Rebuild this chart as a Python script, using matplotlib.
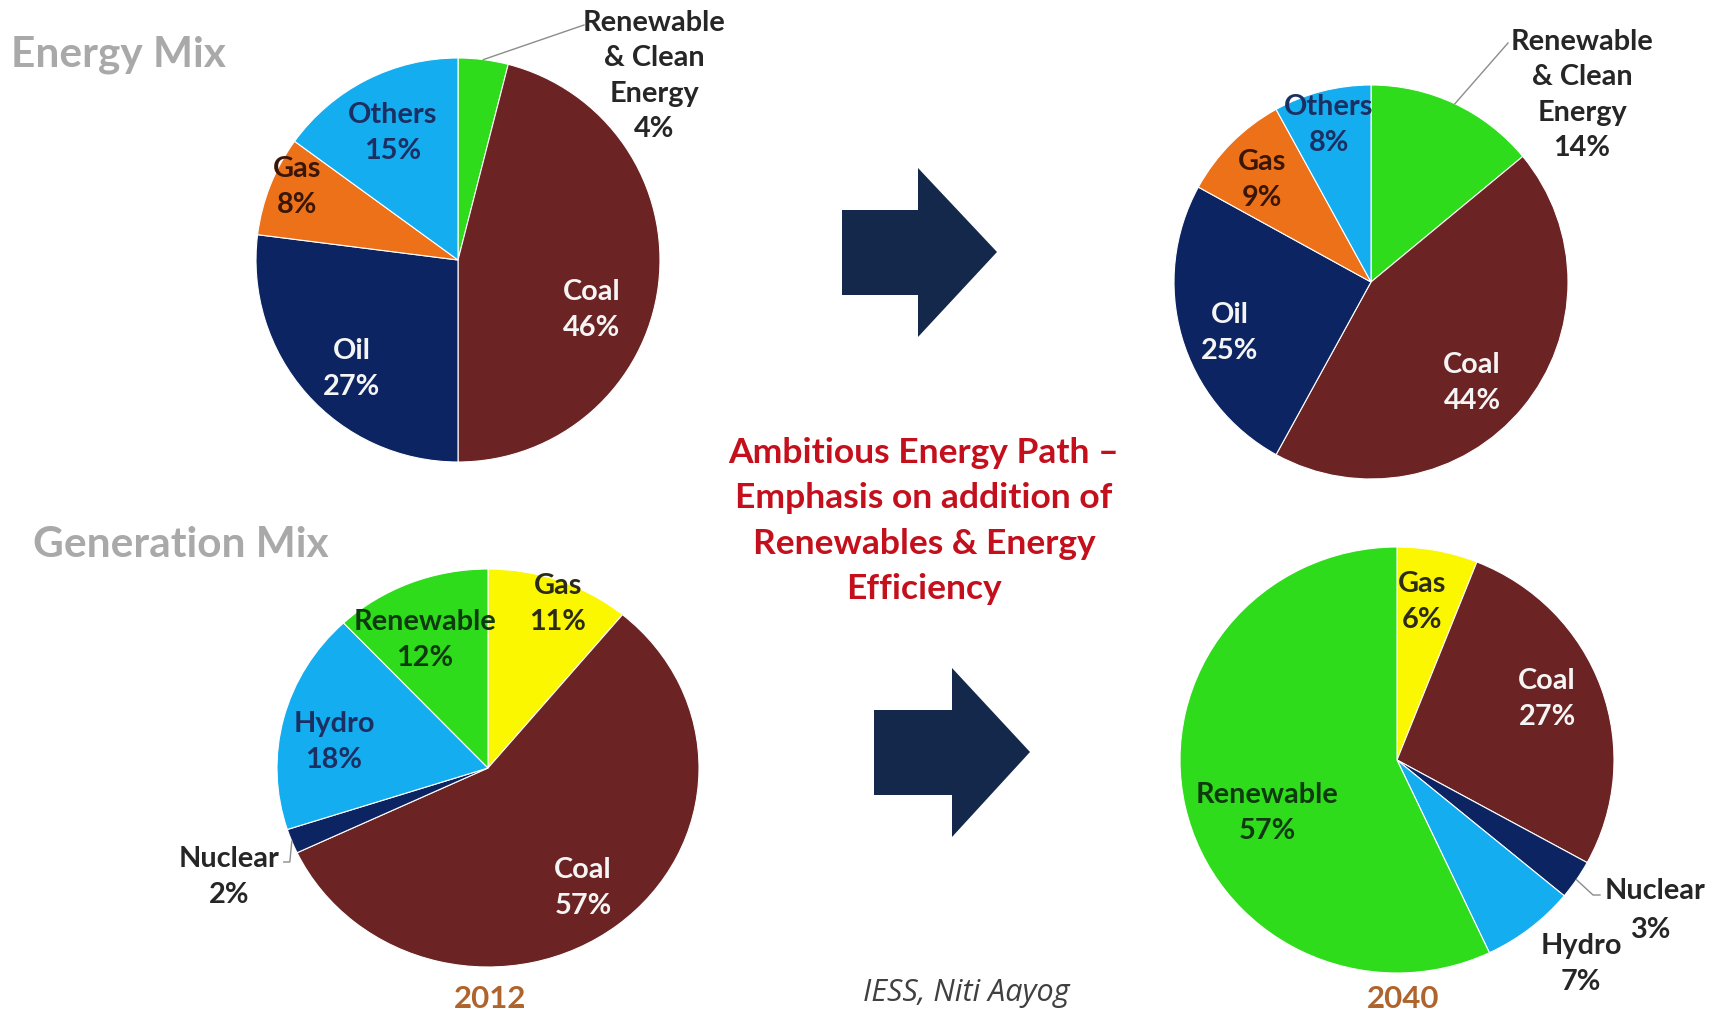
import matplotlib
matplotlib.use("Agg")
import math
import matplotlib.pyplot as plt
from matplotlib.patches import Polygon

# ---- data -------------------------------------------------------------
energy_2012_names = ["Renewable\n& Clean\nEnergy", "Coal", "Oil", "Gas", "Others"]
energy_2012_vals = [4, 46, 27, 8, 15]

energy_2040_names = ["Renewable\n& Clean\nEnergy", "Coal", "Oil", "Gas", "Others"]
energy_2040_vals = [14, 44, 25, 9, 8]

gen_2012_names = ["Gas", "Coal", "Nuclear", "Hydro", "Renewable"]
gen_2012_vals = [11, 57, 2, 18, 12]

gen_2040_names = ["Gas", "Coal", "Nuclear", "Hydro", "Renewable"]
gen_2040_vals = [6, 27, 3, 7, 57]

years = ["2012", "2040"]

# ---- styling ------------------------------------------------------------
GREEN = "#2fdc1c"
COAL = "#6b2323"
NAVY = "#0c2462"
ORANGE = "#ec7119"
SKY = "#14adef"
YELLOW = "#fbf700"

energy_colors = [GREEN, COAL, NAVY, ORANGE, SKY]
gen_colors = [YELLOW, COAL, NAVY, SKY, GREEN]

W, H = 1725, 1015
fig = plt.figure(figsize=(W / 100, H / 100), dpi=100)
fig.patch.set_facecolor("white")

FONT = ["Lato", "DejaVu Sans"]
LBL = 20.8

# overlay axes in pixel units for text, leaders and arrows
ov = fig.add_axes([0, 0, 1, 1], zorder=5)
ov.set_xlim(0, W)
ov.set_ylim(H, 0)
ov.axis("off")
ov.patch.set_alpha(0)


def draw_pie(vals, colors, cx, cy, rx, ry):
    ax = fig.add_axes([(cx - rx) / W, 1 - (cy + ry) / H, 2 * rx / W, 2 * ry / H])
    wedges, _ = ax.pie(vals, colors=colors, startangle=90, counterclock=False,
                       radius=1, wedgeprops=dict(edgecolor="white", linewidth=0.8))
    ax.set_xlim(-1, 1)
    ax.set_ylim(-1, 1)
    ax.set_aspect("auto")
    ax.axis("off")
    return wedges


def rim_point(wedge, cx, cy, rx, ry, frac=1.0):
    mid = math.radians((wedge.theta1 + wedge.theta2) / 2)
    return cx + frac * rx * math.cos(mid), cy - frac * ry * math.sin(mid)


def label(x, y, name, val, color, size=LBL):
    ov.text(x, y, f"{name}\n{val}%", ha="center", va="center", color=color,
            fontsize=size, fontweight="bold", family=FONT, linespacing=1.44)


# pie geometry (pixel centre and radii)
P1 = (458, 260, 202, 202)
P2 = (1371, 282, 197, 197)
P3 = (488, 768, 211, 199)
P4 = (1397, 760, 217, 213)

w1 = draw_pie(energy_2012_vals, energy_colors, *P1)
w2 = draw_pie(energy_2040_vals, energy_colors, *P2)
w3 = draw_pie(gen_2012_vals, gen_colors, *P3)
w4 = draw_pie(gen_2040_vals, gen_colors, *P4)

DARK = "#262626"
NAVYTXT = "#1c2f62"
GASTXT = "#3a1606"
GREENTXT = "#0f3a0f"
WHITE = "#f5f5f5"

# Energy mix 2012
n, v = energy_2012_names, energy_2012_vals
label(654, 76, n[0], v[0], DARK)
label(592, 310, n[1], v[1], WHITE)
label(352, 369, n[2], v[2], WHITE)
label(297, 187, n[3], v[3], GASTXT)
label(393, 133, n[4], v[4], NAVYTXT)
sx, sy = rim_point(w1[0], *P1)
ov.plot([sx, 584], [sy, 25], color="#8c8c8c", lw=1)

# Energy mix 2040
n, v = energy_2040_names, energy_2040_vals
label(1582, 95, n[0], v[0], DARK)
label(1472, 383, n[1], v[1], WHITE)
label(1230, 333, n[2], v[2], WHITE)
label(1262, 180, n[3], v[3], GASTXT)
label(1329, 125, n[4], v[4], NAVYTXT)
sx, sy = rim_point(w2[0], *P2)
ov.plot([sx, 1508], [sy, 43], color="#8c8c8c", lw=1)

# Generation mix 2012
n, v = gen_2012_names, gen_2012_vals
label(558, 604, n[0], v[0], "#2b2b18")
label(583, 888, n[1], v[1], WHITE)
label(229, 877, n[2], v[2], DARK)
label(334, 742, n[3], v[3], NAVYTXT)
label(425, 640, n[4], v[4], GREENTXT)
sx, sy = rim_point(w3[2], *P3)
ov.plot([sx, sx - 2, sx - 8], [sy, 862, 862], color="#8c8c8c", lw=1)

# Generation mix 2040
n, v = gen_2040_names, gen_2040_vals
label(1422, 602, n[0], v[0], "#2b2b18")
label(1547, 699, n[1], v[1], WHITE)
ov.text(1655, 891, n[2], ha="center", va="center", color=DARK, fontsize=LBL,
        fontweight="bold", family=FONT)
ov.text(1650, 930, f"{v[2]}%", ha="center", va="center", color=DARK, fontsize=LBL,
        fontweight="bold", family=FONT)
label(1581, 964, n[3], v[3], DARK)
label(1267, 813, n[4], v[4], GREENTXT)
sx, sy = rim_point(w4[2], *P4)
ov.plot([sx, 1593, 1600], [sy, 895, 895], color="#8c8c8c", lw=1)

# section headings
ov.text(11, 55, "Energy Mix", ha="left", va="center", color="#a9a9a9",
        fontsize=30.5, fontweight="bold", family=FONT)
ov.text(33, 545, "Generation Mix", ha="left", va="center", color="#a9a9a9",
        fontsize=30.5, fontweight="bold", family=FONT)

# central message
ov.text(924, 521, "Ambitious Energy Path \u2013\nEmphasis on addition of\n"
        "Renewables & Energy\nEfficiency", ha="center", va="center",
        color="#c3101c", fontsize=25.5, fontweight="bold", family=FONT,
        linespacing=1.52)

# year captions and source
ov.text(490, 999, years[0], ha="center", va="center", color="#b0642d",
        fontsize=22.5, fontweight="bold", family=FONT)
ov.text(1403, 999, years[1], ha="center", va="center", color="#b0642d",
        fontsize=22.5, fontweight="bold", family=FONT)
ov.text(966, 993, "IESS, Niti Aayog", ha="center", va="center", color="#404040",
        fontsize=22, style="italic", family=["Open Sans", "DejaVu Sans"])

# block arrows between the years
ARROW = "#14284b"
for (bl, bt, bb, hb, ht, hbot, tx, ty) in [(842, 210, 295, 918, 168, 337, 997, 252),
                                           (874, 710, 795, 952, 668, 837, 1030, 752)]:
    ov.add_patch(Polygon([(bl, bt), (hb, bt), (hb, ht), (tx, ty), (hb, hbot),
                          (hb, bb), (bl, bb)], closed=True, facecolor=ARROW,
                         edgecolor="none"))

fig.savefig("out.png", dpi=100, facecolor="white")
